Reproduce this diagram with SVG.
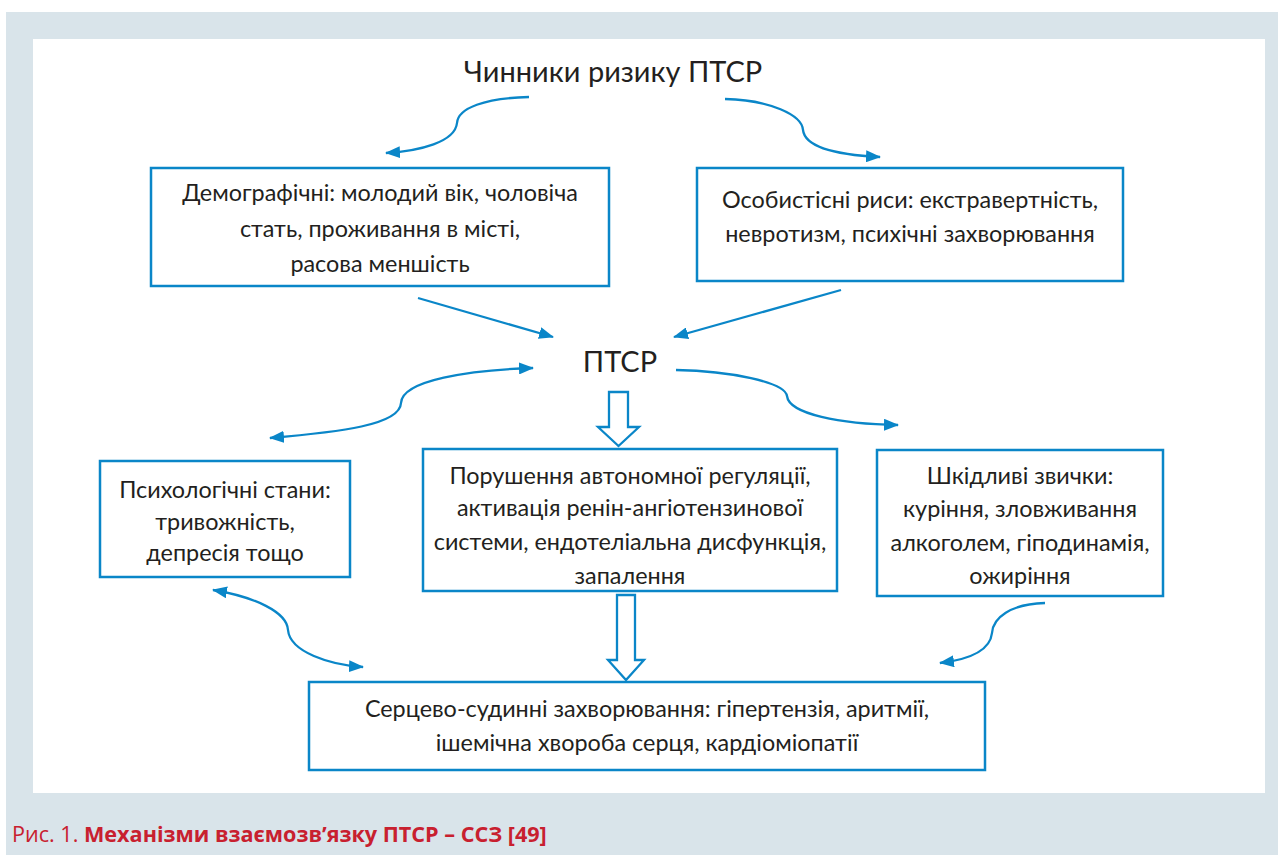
<svg xmlns="http://www.w3.org/2000/svg" width="1278" height="855" viewBox="0 0 1278 855">
<defs>
<style>
.panel{fill:#d9e4ea}
.box{fill:#ffffff;stroke:#0a86c8;stroke-width:2.5}
.t{font-family:Lato,"Open Sans","Noto Sans",sans-serif;font-size:23.4px;fill:#231f20;text-anchor:middle}
.big{font-size:29px}
.con{fill:none;stroke:#0a86c8;stroke-width:2.3}
.hollow{fill:#ffffff;stroke:#0a86c8;stroke-width:2.3;stroke-linejoin:miter}
.cap{font-family:"Open Sans","Noto Sans",sans-serif;font-size:21.6px;fill:#c8202f}
</style>
<marker id="ah" viewBox="0 0 15 12" refX="14" refY="6" markerWidth="15" markerHeight="12" markerUnits="userSpaceOnUse" orient="auto-start-reverse">
<path d="M0,0 L15,6 L0,12 z" fill="#0a86c8"/>
</marker>
</defs>
<rect class="panel" x="6" y="12" width="1272" height="843"/>
<rect x="33" y="39" width="1232" height="754" fill="#ffffff"/>

<g id="title"><text class="t big" x="613" y="82">Чинники ризику ПТСР</text></g>

<g id="demographic">
<rect class="box" x="151" y="168" width="458" height="118"/>
<text class="t" x="380" y="201">Демографічні: молодий вік, чоловіча</text>
<text class="t" x="380" y="237">стать, проживання в місті,</text>
<text class="t" x="380" y="272">расова меншість</text>
</g>

<g id="personality">
<rect class="box" x="697" y="168" width="426" height="113"/>
<text class="t" x="910" y="208">Особистісні риси: екстравертність,</text>
<text class="t" x="910" y="242">невротизм, психічні захворювання</text>
</g>

<g id="ptsr"><text class="t big" x="620" y="372">ПТСР</text></g>

<g id="psych">
<rect class="box" x="100" y="461" width="250" height="116"/>
<text class="t" x="225" y="498">Психологічні стани:</text>
<text class="t" x="225" y="530">тривожність,</text>
<text class="t" x="225" y="561">депресія тощо</text>
</g>

<g id="mechanisms">
<rect class="box" x="423" y="449" width="414" height="142"/>
<text class="t" x="630" y="484">Порушення автономної регуляції,</text>
<text class="t" x="630" y="516">активація ренін-ангіотензинової</text>
<text class="t" x="630" y="550">системи, ендотеліальна дисфункція,</text>
<text class="t" x="630" y="584">запалення</text>
</g>

<g id="habits">
<rect class="box" x="877" y="450" width="286" height="146"/>
<text class="t" x="1020" y="484">Шкідливі звички:</text>
<text class="t" x="1020" y="517">куріння, зловживання</text>
<text class="t" x="1020" y="551">алкоголем, гіподинамія,</text>
<text class="t" x="1020" y="584">ожиріння</text>
</g>

<g id="cvd">
<rect class="box" x="309" y="682" width="676" height="88"/>
<text class="t" x="647" y="717">Серцево-судинні захворювання: гіпертензія, аритмії,</text>
<text class="t" x="647" y="751">ішемічна хвороба серця, кардіоміопатії</text>
</g>

<g id="connectors">
<path class="con" d="M529,97 C485,98 458,108 457,123 C455,142 420,151 386,153" marker-end="url(#ah)"/>
<path class="con" d="M725,99 C770,100 802,115 803,130 C805,148 840,155 880,157" marker-end="url(#ah)"/>
<path class="con" d="M418,298 L553,337" marker-end="url(#ah)"/>
<path class="con" d="M841,290 L674,337" marker-end="url(#ah)"/>
<path class="con" d="M270,438 C340,432 400,425 401,403 C402,380 470,370 533,368" marker-start="url(#ah)" marker-end="url(#ah)"/>
<path class="con" d="M676,370 C730,371 785,382 787,396 C789,414 840,424 898,425" marker-end="url(#ah)"/>
<path class="con" d="M213,590 C255,597 287,612 288,630 C290,652 330,665 363,667" marker-start="url(#ah)" marker-end="url(#ah)"/>
<path class="con" d="M1045,603 C1010,604 993,618 992,633 C990,652 965,660 940,663" marker-end="url(#ah)"/>
<path class="hollow" d="M609,392 L628,392 L628,427 L639,427 L618.5,446 L598,427 L609,427 Z"/>
<path class="hollow" d="M617,595 L635,595 L635,660 L644,660 L626,680 L608,660 L617,660 Z"/>
</g>

<g id="caption"><text class="cap" x="12" y="842">Рис. 1. <tspan font-weight="bold">Механізми взаємозв’язку ПТСР – ССЗ [49]</tspan></text></g>
</svg>
